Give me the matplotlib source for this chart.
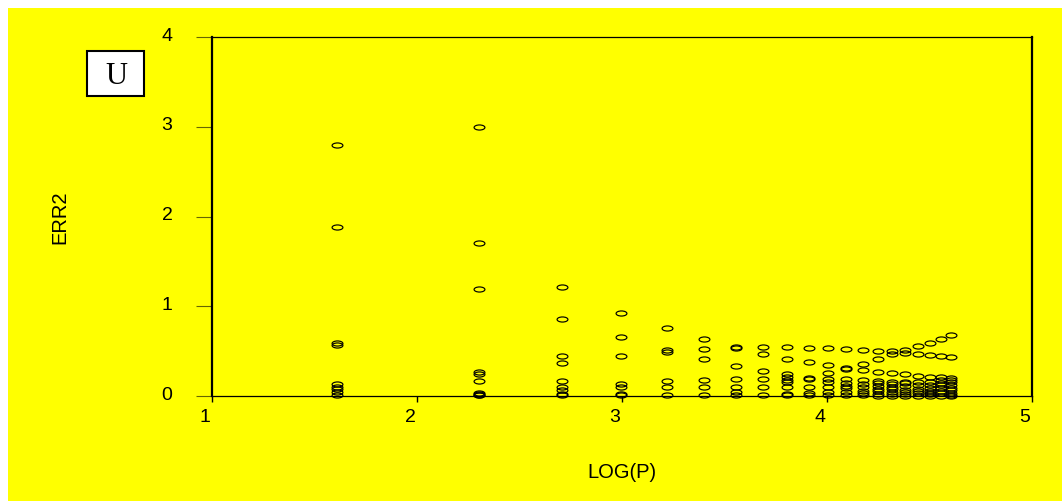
import matplotlib.pyplot as plt
from matplotlib.markers import MarkerStyle
from matplotlib.transforms import Affine2D, ScaledTranslation
from matplotlib.patches import Rectangle

# LOG(P) positions of the point columns
log_p = [1.609, 2.303, 2.708, 2.996, 3.219, 3.401, 3.555, 3.689, 3.807, 3.912,
         4.007, 4.094, 4.174, 4.248, 4.317, 4.382, 4.443, 4.500, 4.554, 4.605]

# ERR2 values
err_c01 = [2.80, 1.886, 0.585, 0.565, 0.134, 0.104, 0.075, 0.045, 0.011]
err_c02 = [3.00, 1.70, 1.195, 0.264, 0.245, 0.167, 0.03, 0.022, 0.015, 0.01]
err_c03 = [1.21, 0.858, 0.446, 0.371, 0.163, 0.097, 0.067, 0.02, 0.008]
err_c04 = [0.93, 0.654, 0.446, 0.13, 0.097, 0.019, 0.008]
err_c05 = [0.754, 0.51, 0.495, 0.163, 0.104, 0.008]
err_c06 = [0.632, 0.524, 0.412, 0.178, 0.097, 0.011]
err_c07 = [0.545, 0.535, 0.336, 0.186, 0.097, 0.048, 0.011]
err_c08 = [0.542, 0.468, 0.277, 0.189, 0.097, 0.011]
err_c09 = [0.542, 0.412, 0.242, 0.212, 0.182, 0.152, 0.104, 0.026, 0.011]
err_c10 = [0.538, 0.375, 0.205, 0.19, 0.104, 0.037, 0.011]
err_c11 = [0.533, 0.34, 0.253, 0.186, 0.16, 0.104, 0.048, 0.011]
err_c12 = [0.524, 0.315, 0.30, 0.186, 0.141, 0.115, 0.086, 0.041, 0.011]
err_c13 = [0.513, 0.357, 0.286, 0.178, 0.134, 0.097, 0.056, 0.03, 0.011]
err_c14 = [0.501, 0.408, 0.264, 0.171, 0.141, 0.111, 0.081, 0.052, 0.022, 0.004]
err_c15 = [0.50, 0.465, 0.253, 0.16, 0.134, 0.104, 0.075, 0.048, 0.019, 0.004]
err_c16 = [0.51, 0.478, 0.242, 0.16, 0.141, 0.111, 0.067, 0.045, 0.019, 0.004]
err_c17 = [0.557, 0.468, 0.227, 0.152, 0.122, 0.075, 0.056, 0.03, 0.004]
err_c18 = [0.594, 0.453, 0.215, 0.152, 0.122, 0.086, 0.059, 0.037, 0.019, 0.004]
err_c19 = [0.635, 0.442, 0.212, 0.178, 0.149, 0.119, 0.086, 0.059, 0.03, 0.004]
err_c20 = [0.68, 0.431, 0.204, 0.178, 0.152, 0.122, 0.093, 0.067, 0.037, 0.015, 0.004]

err_cols = [err_c01, err_c02, err_c03, err_c04, err_c05, err_c06, err_c07,
            err_c08, err_c09, err_c10, err_c11, err_c12, err_c13, err_c14,
            err_c15, err_c16, err_c17, err_c18, err_c19, err_c20]

x_ticks = [1, 2, 3, 4, 5]
y_ticks = [0, 1, 2, 3, 4]

plt.rcParams['font.family'] = ['Liberation Sans', 'DejaVu Sans']

W, H = 1062, 501
fig = plt.figure(figsize=(W / 100, H / 100), dpi=100, facecolor='white')

# yellow panel behind everything
fig.patches.append(Rectangle((8 / W, 0), 1 - 8 / W, (H - 8) / H,
                             transform=fig.transFigure, facecolor='#ffff00',
                             edgecolor='none', zorder=-5))

ax = fig.add_axes([212 / W, 105 / H, 820 / W, 359 / H])
ax.set_facecolor('#ffff00')

# small flat ellipses
ell = MarkerStyle('o', fillstyle='none', transform=Affine2D().scale(1, 0.47))
for x, vals in zip(log_p, err_cols):
    ax.plot([x] * len(vals), vals, linestyle='none', marker=ell,
            markersize=7.8, markeredgewidth=0.85, color='black', clip_on=False)

ax.set_xlim(1, 5)
ax.set_ylim(0, 4)
ax.set_xticks(x_ticks)
ax.set_yticks(y_ticks)

for side in ['left', 'right']:
    ax.spines[side].set_linewidth(1.6)
for side in ['top', 'bottom']:
    ax.spines[side].set_linewidth(0.9)

ax.tick_params(axis='x', direction='out', length=4.5, width=1, pad=5,
               labelsize=14)
ax.tick_params(axis='y', direction='out', length=11.5, width=0.8,
               color='#666600', pad=17, labelsize=14)

for lbl in ax.get_xticklabels():
    lbl.set_transform(lbl.get_transform() + ScaledTranslation(-0.07, 0, fig.dpi_scale_trans))
for lbl in ax.get_yticklabels():
    lbl.set_transform(lbl.get_transform() + ScaledTranslation(0, 0.03, fig.dpi_scale_trans))

fig.text(60 / W, 1 - 217 / H, 'ERR2', rotation=90, ha='center', va='center',
         fontsize=14.5)
fig.text(622 / W, 1 - 473 / H, 'LOG(P)', ha='center', va='center',
         fontsize=14.5)

# "U" label box
fig.patches.append(Rectangle((87 / W, 1 - 96 / H), 57 / W, 45 / H,
                             transform=fig.transFigure, facecolor='white',
                             edgecolor='black', linewidth=1.5, zorder=3))
fig.text(116 / W, 1 - 76 / H, 'U', ha='center', va='center', fontsize=22,
         family='Liberation Serif', zorder=4)

fig.savefig('out.png', dpi=100, facecolor=fig.get_facecolor())
